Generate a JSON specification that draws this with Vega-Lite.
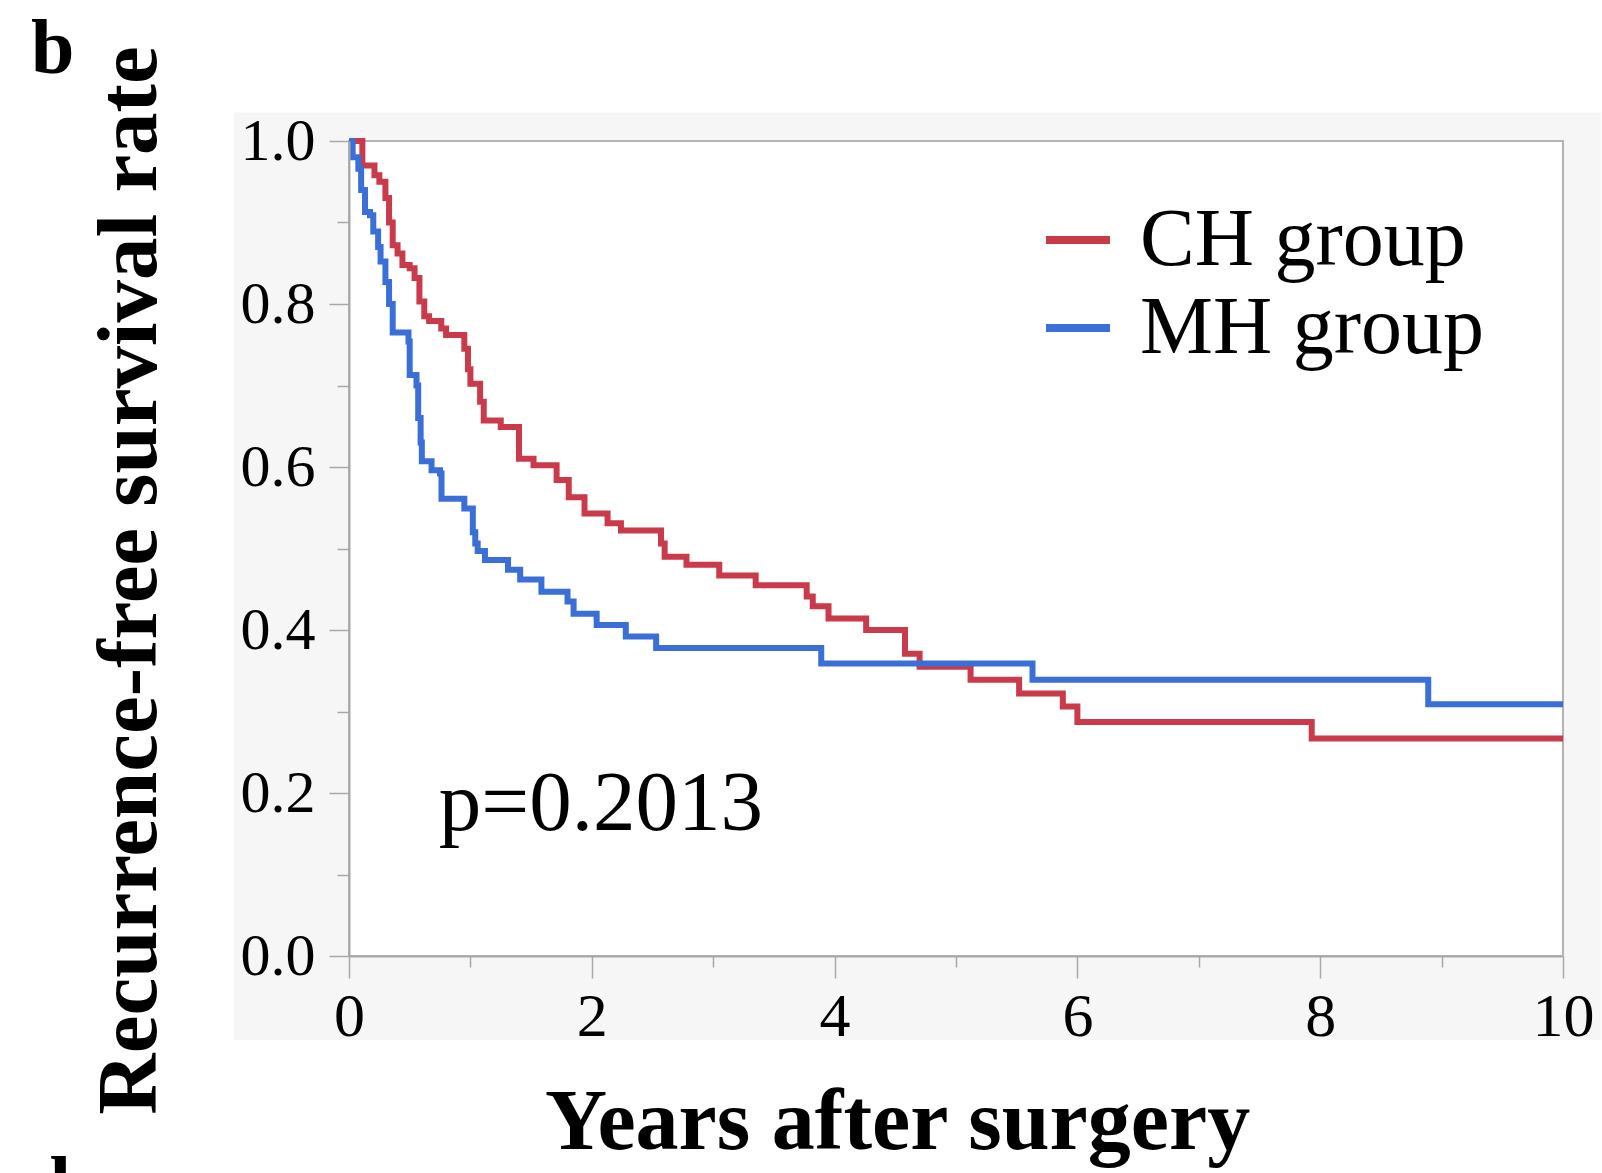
{
  "$schema": "https://vega.github.io/schema/vega-lite/v6.json",
  "autosize": {"type": "none"},
  "width": 1214,
  "height": 815,
  "padding": {"left": 349, "top": 141, "right": 39, "bottom": 217},
  "background": "white",
  "config": {
    "view": {"stroke": null},
    "font": "Liberation Serif"
  },
  "title": {
    "text": "b",
    "anchor": "start",
    "frame": "group",
    "dx": -318,
    "dy": 105,
    "offset": 0,
    "baseline": "alphabetic",
    "font": "Liberation Serif",
    "fontSize": 78,
    "fontWeight": "bold",
    "color": "black"
  },
  "datasets": {
    "km": [
      {"g": "CH group", "t": 0, "s": 1.0},
      {"g": "CH group", "t": 0.11, "s": 0.97},
      {"g": "CH group", "t": 0.21, "s": 0.958},
      {"g": "CH group", "t": 0.25, "s": 0.95},
      {"g": "CH group", "t": 0.30, "s": 0.93},
      {"g": "CH group", "t": 0.33, "s": 0.90},
      {"g": "CH group", "t": 0.36, "s": 0.872},
      {"g": "CH group", "t": 0.40, "s": 0.862},
      {"g": "CH group", "t": 0.44, "s": 0.848},
      {"g": "CH group", "t": 0.50, "s": 0.844},
      {"g": "CH group", "t": 0.54, "s": 0.832},
      {"g": "CH group", "t": 0.58, "s": 0.803},
      {"g": "CH group", "t": 0.62, "s": 0.785},
      {"g": "CH group", "t": 0.66, "s": 0.779},
      {"g": "CH group", "t": 0.76, "s": 0.770},
      {"g": "CH group", "t": 0.80, "s": 0.762},
      {"g": "CH group", "t": 0.95, "s": 0.745},
      {"g": "CH group", "t": 0.98, "s": 0.72},
      {"g": "CH group", "t": 1.0, "s": 0.702},
      {"g": "CH group", "t": 1.08, "s": 0.68},
      {"g": "CH group", "t": 1.11, "s": 0.657},
      {"g": "CH group", "t": 1.25, "s": 0.649},
      {"g": "CH group", "t": 1.40, "s": 0.610},
      {"g": "CH group", "t": 1.52, "s": 0.602},
      {"g": "CH group", "t": 1.71, "s": 0.584},
      {"g": "CH group", "t": 1.81, "s": 0.563},
      {"g": "CH group", "t": 1.94, "s": 0.543},
      {"g": "CH group", "t": 2.13, "s": 0.531},
      {"g": "CH group", "t": 2.24, "s": 0.522},
      {"g": "CH group", "t": 2.57, "s": 0.506},
      {"g": "CH group", "t": 2.60, "s": 0.490},
      {"g": "CH group", "t": 2.78, "s": 0.480},
      {"g": "CH group", "t": 3.05, "s": 0.467},
      {"g": "CH group", "t": 3.35, "s": 0.455},
      {"g": "CH group", "t": 3.77, "s": 0.441},
      {"g": "CH group", "t": 3.82, "s": 0.429},
      {"g": "CH group", "t": 3.95, "s": 0.414},
      {"g": "CH group", "t": 4.26, "s": 0.400},
      {"g": "CH group", "t": 4.58, "s": 0.371},
      {"g": "CH group", "t": 4.70, "s": 0.355},
      {"g": "CH group", "t": 5.12, "s": 0.339},
      {"g": "CH group", "t": 5.52, "s": 0.322},
      {"g": "CH group", "t": 5.88, "s": 0.306},
      {"g": "CH group", "t": 6.0, "s": 0.287},
      {"g": "CH group", "t": 7.93, "s": 0.267},
      {"g": "CH group", "t": 10.0, "s": 0.267},
      {"g": "MH group", "t": 0, "s": 1.0},
      {"g": "MH group", "t": 0.03, "s": 0.98},
      {"g": "MH group", "t": 0.077, "s": 0.966},
      {"g": "MH group", "t": 0.10, "s": 0.94},
      {"g": "MH group", "t": 0.132, "s": 0.913},
      {"g": "MH group", "t": 0.173, "s": 0.909},
      {"g": "MH group", "t": 0.20, "s": 0.889},
      {"g": "MH group", "t": 0.24, "s": 0.87},
      {"g": "MH group", "t": 0.26, "s": 0.852},
      {"g": "MH group", "t": 0.30, "s": 0.827},
      {"g": "MH group", "t": 0.33, "s": 0.80},
      {"g": "MH group", "t": 0.36, "s": 0.765},
      {"g": "MH group", "t": 0.49, "s": 0.754},
      {"g": "MH group", "t": 0.50, "s": 0.713},
      {"g": "MH group", "t": 0.556, "s": 0.70},
      {"g": "MH group", "t": 0.57, "s": 0.66},
      {"g": "MH group", "t": 0.59, "s": 0.63},
      {"g": "MH group", "t": 0.60, "s": 0.607},
      {"g": "MH group", "t": 0.68, "s": 0.596},
      {"g": "MH group", "t": 0.75, "s": 0.592},
      {"g": "MH group", "t": 0.762, "s": 0.561},
      {"g": "MH group", "t": 0.95, "s": 0.549},
      {"g": "MH group", "t": 1.02, "s": 0.52},
      {"g": "MH group", "t": 1.04, "s": 0.506},
      {"g": "MH group", "t": 1.06, "s": 0.497},
      {"g": "MH group", "t": 1.12, "s": 0.486},
      {"g": "MH group", "t": 1.31, "s": 0.474},
      {"g": "MH group", "t": 1.41, "s": 0.462},
      {"g": "MH group", "t": 1.585, "s": 0.447},
      {"g": "MH group", "t": 1.80, "s": 0.435},
      {"g": "MH group", "t": 1.85, "s": 0.420},
      {"g": "MH group", "t": 2.04, "s": 0.406},
      {"g": "MH group", "t": 2.28, "s": 0.392},
      {"g": "MH group", "t": 2.53, "s": 0.378},
      {"g": "MH group", "t": 3.89, "s": 0.359},
      {"g": "MH group", "t": 5.63, "s": 0.339},
      {"g": "MH group", "t": 8.89, "s": 0.309},
      {"g": "MH group", "t": 10.0, "s": 0.309}
    ],
    "note": [{"label": "p=0.2013", "t": 0.74, "s": 0.155}],
    "panel": [{"label": "d", "t": -2.65, "s": -0.312}]
  },
  "layer": [
    {
      "data": {"values": [{}]},
      "mark": {"type": "rect", "color": "#f6f6f6", "clip": false},
      "encoding": {
        "x": {"datum": -0.95, "type": "quantitative", "scale": {"domain": [0, 10], "nice": false, "zero": false}},
        "x2": {"datum": 10.31},
        "y": {"datum": 1.035, "type": "quantitative", "scale": {"domain": [0, 1], "nice": false}},
        "y2": {"datum": -0.103}
      }
    },
    {
      "data": {"values": [{}]},
      "mark": {"type": "rect", "fill": "white", "stroke": "#b4b4b4", "strokeWidth": 2},
      "encoding": {
        "x": {"datum": 0, "type": "quantitative"},
        "x2": {"datum": 10},
        "y": {"datum": 1, "type": "quantitative"},
        "y2": {"datum": 0}
      }
    },
    {
      "data": {"name": "km"},
      "mark": {"type": "line", "interpolate": "step-after", "strokeWidth": 6},
      "encoding": {
        "x": {
          "field": "t", "type": "quantitative",
          "scale": {"domain": [0, 10], "nice": false, "zero": false},
          "axis": {
            "title": "Years after surgery",
            "values": [0, 1, 2, 3, 4, 5, 6, 7, 8, 9, 10],
            "format": "d",
            "labelExpr": "datum.value % 2 == 0 ? datum.label : ''",
            "tickSize": {"condition": {"test": "datum.value % 2 == 0", "value": 22}, "value": 11},
            "grid": false,
            "zindex": 1,
            "domainColor": "#a8a8a8",
            "domainWidth": 2,
            "tickColor": "#a8a8a8",
            "tickWidth": 1.5,
            "labelFont": "Liberation Serif",
            "labelFontSize": 62,
            "labelColor": "black",
            "labelPadding": 8,
            "labelFlush": false,
            "titleFont": "Liberation Serif",
            "titleFontSize": 86,
            "titleFontWeight": "bold",
            "titleColor": "black",
            "titleX": 548,
            "titleY": 192,
            "titleBaseline": "alphabetic",
            "titleAlign": "center"
          }
        },
        "y": {
          "field": "s", "type": "quantitative",
          "scale": {"domain": [0, 1], "nice": false},
          "axis": {
            "title": "Recurrence-free survival rate",
            "values": [0, 0.1, 0.2, 0.3, 0.4, 0.5, 0.6, 0.7, 0.8, 0.9, 1.0],
            "format": ".1f",
            "labelExpr": "round(datum.value * 10) % 2 == 0 ? datum.label : ''",
            "tickSize": {"condition": {"test": "round(datum.value * 10) % 2 == 0", "value": 20}, "value": 12},
            "grid": false,
            "zindex": 1,
            "domainColor": "#a8a8a8",
            "domainWidth": 2,
            "tickColor": "#a8a8a8",
            "tickWidth": 1.5,
            "labelFont": "Liberation Serif",
            "labelFontSize": 60,
            "labelColor": "black",
            "labelPadding": 14,
            "labelFlush": false,
            "titleFont": "Liberation Serif",
            "titleFontSize": 85,
            "titleFontWeight": "bold",
            "titleColor": "black",
            "titleAngle": -90,
            "titleX": -194,
            "titleY": 439,
            "titleBaseline": "alphabetic",
            "titleAlign": "center"
          }
        },
        "color": {
          "field": "g", "type": "nominal",
          "scale": {"domain": ["CH group", "MH group"], "range": ["#c93a4a", "#3b6fd8"]},
          "legend": {
            "title": null,
            "orient": "none",
            "legendX": 688,
            "legendY": 58,
            "padding": 0,
            "symbolType": "stroke",
            "symbolSize": 4096,
            "symbolStrokeWidth": 8,
            "labelFont": "Liberation Serif",
            "labelFontSize": 82,
            "labelColor": "black",
            "labelOffset": 21,
            "labelLimit": 600,
            "rowPadding": 6
          }
        }
      }
    },
    {
      "data": {"name": "note"},
      "mark": {"type": "text", "align": "left", "baseline": "alphabetic", "font": "Liberation Serif", "fontSize": 85, "color": "black"},
      "encoding": {
        "x": {"field": "t", "type": "quantitative"},
        "y": {"field": "s", "type": "quantitative"},
        "text": {"field": "label"}
      }
    },
    {
      "data": {"name": "panel"},
      "mark": {"type": "text", "align": "left", "baseline": "alphabetic", "font": "Liberation Serif", "fontSize": 78, "fontWeight": "bold", "color": "black", "clip": false},
      "encoding": {
        "x": {"field": "t", "type": "quantitative"},
        "y": {"field": "s", "type": "quantitative"},
        "text": {"field": "label"}
      }
    }
  ]
}
